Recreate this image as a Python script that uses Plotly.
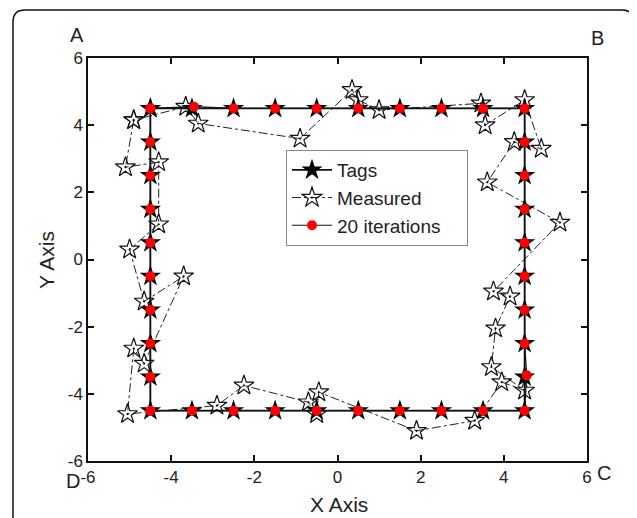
import plotly.graph_objects as go

# ---- data ----
tags_x = [-4.5, -3.5, -2.5, -1.5, -0.5, 0.5, 1.5, 2.5, 3.5, 4.5,
          4.5, 4.5, 4.5, 4.5, 4.5, 4.5, 4.5, 4.5, 4.5,
          3.5, 2.5, 1.5, 0.5, -0.5, -1.5, -2.5, -3.5, -4.5,
          -4.5, -4.5, -4.5, -4.5, -4.5, -4.5, -4.5, -4.5, -4.5]
tags_y = [4.5, 4.5, 4.5, 4.5, 4.5, 4.5, 4.5, 4.5, 4.5, 4.5,
          3.5, 2.5, 1.5, 0.5, -0.5, -1.5, -2.5, -3.5, -4.5,
          -4.5, -4.5, -4.5, -4.5, -4.5, -4.5, -4.5, -4.5, -4.5,
          -3.5, -2.5, -1.5, -0.5, 0.5, 1.5, 2.5, 3.5, 4.5]

meas_x = [-4.9, -5.1, -4.3, -4.3, -5.0, -4.65, -3.7, -4.65, -4.9, -5.05,
          -2.9, -2.25, -0.7, -0.5, -0.45, 1.9, 3.3, 3.95, 4.5, 3.7,
          3.8, 4.15, 3.75, 5.35, 3.6, 4.25, 4.9, 4.5, 3.55, 3.45,
          1.0, 0.5, 0.35, -0.9, -3.35, -3.65, -4.9]
meas_y = [4.15, 2.75, 2.9, 1.05, 0.3, -1.25, -0.5, -3.1, -2.65, -4.6,
          -4.35, -3.75, -4.25, -4.6, -3.95, -5.1, -4.8, -3.65, -3.9, -3.2,
          -2.05, -1.1, -0.95, 1.1, 2.3, 3.5, 3.3, 4.75, 4.0, 4.65,
          4.45, 4.75, 5.05, 3.6, 4.05, 4.55, 4.15]

iter_x = [-4.5, -3.45, -2.5, -1.5, -0.5, 0.5, 1.5, 2.5, 3.5, 4.5,
          4.5, 4.5, 4.5, 4.5, 4.5, 4.5, 4.5, 4.55, 4.5,
          3.5, 2.5, 1.5, 0.5, -0.5, -1.5, -2.5, -3.5, -4.5,
          -4.5, -4.5, -4.5, -4.5, -4.5, -4.5, -4.5, -4.5, -4.5]
iter_y = [4.5, 4.55, 4.5, 4.5, 4.5, 4.5, 4.5, 4.5, 4.5, 4.5,
          3.5, 2.5, 1.5, 0.5, -0.5, -1.5, -2.5, -3.45, -4.5,
          -4.5, -4.5, -4.5, -4.5, -4.5, -4.5, -4.5, -4.5, -4.5,
          -3.5, -2.5, -1.5, -0.5, 0.5, 1.5, 2.5, 3.5, 4.5]

tick_vals = [-6, -4, -2, 0, 2, 4, 6]
tick_text = ["-6", "-4", "-2", "0", "2", "4", "6"]

FONT = "Arial, Liberation Sans, sans-serif"
PAD = "\u00a0\u00a0\u00a0\u00a0"

# ---- figure geometry (pixels, page coords; body margin is 8px) ----
OFF = 8
W, H = 637 - OFF, 518 - OFF
L, R, T, B = 88 - OFF, 50, 58 - OFF, 57
pw, ph = W - L - R, H - T - B

def px(x):
    return (x - OFF - L) / pw

def py(y):
    return (H - B - (y - OFF)) / ph

fig = go.Figure()

fig.add_trace(go.Scatter(
    x=meas_x, y=meas_y, name="Measured" + PAD, mode="lines+markers",
    line=dict(color="#222", width=1, dash="dashdot"),
    marker=dict(symbol="star-open-dot", size=15, color="#111",
                line=dict(width=1.2)),
    legendrank=2,
))
fig.add_trace(go.Scatter(
    x=tags_x, y=tags_y, name="Tags" + PAD, mode="lines+markers",
    line=dict(color="#111", width=1.8),
    marker=dict(symbol="star", size=16, color="#000"),
    legendrank=1,
))
fig.add_trace(go.Scatter(
    x=iter_x, y=iter_y, name="20 iterations" + PAD, mode="lines+markers",
    line=dict(color="#111", width=1.2),
    marker=dict(symbol="circle", size=10, color="#ff0000"),
    legendrank=3,
))

axis_common = dict(
    range=[-6, 6], tickvals=tick_vals, ticktext=tick_text,
    showgrid=False, zeroline=False, showline=True, linecolor="#111",
    linewidth=1.5, mirror="ticks", ticks="inside", ticklen=6,
    tickwidth=1.5, tickcolor="#111",
    tickfont=dict(family=FONT, size=17, color="#222"),
)

fig.update_layout(
    width=W, height=H,
    margin=dict(l=L, r=R, t=T, b=B, pad=0),
    paper_bgcolor="white", plot_bgcolor="white",
    xaxis=dict(**axis_common),
    yaxis=dict(**axis_common),
    showlegend=True,
    legend=dict(
        x=px(286), y=py(150), xanchor="left", yanchor="top",
        bgcolor="white", bordercolor="#888", borderwidth=1,
        font=dict(family=FONT, size=19, color="#222"),
        itemwidth=40, tracegroupgap=0,
    ),
)

# outer rounded frame
x0, x1, y0, y1, r = 13, 634, 10, 540, 12
path = (
    f"M {px(x0)},{py(y0 + r)} "
    f"Q {px(x0)},{py(y0)} {px(x0 + r)},{py(y0)} "
    f"L {px(x1 - r)},{py(y0)} "
    f"Q {px(x1)},{py(y0)} {px(x1)},{py(y0 + r)} "
    f"L {px(x1)},{py(y1)} "
    f"L {px(x0)},{py(y1)} Z"
)
fig.add_shape(type="path", path=path, xref="paper", yref="paper",
              line=dict(color="#111", width=1.5), fillcolor="rgba(0,0,0,0)")

def ann(text, x, y, size=20, angle=0):
    fig.add_annotation(text=text, x=px(x), y=py(y), xref="paper", yref="paper",
                       showarrow=False, textangle=angle,
                       font=dict(family=FONT, size=size, color="#222"),
                       xanchor="center", yanchor="middle")

ann("A", 77, 35)
ann("B", 597, 38)
ann("C", 604, 473)
ann("D", 73, 481)
ann("X Axis", 339, 505, size=21)
ann("Y Axis", 46, 260, size=21, angle=-90)

fig.write_html("out.html")
